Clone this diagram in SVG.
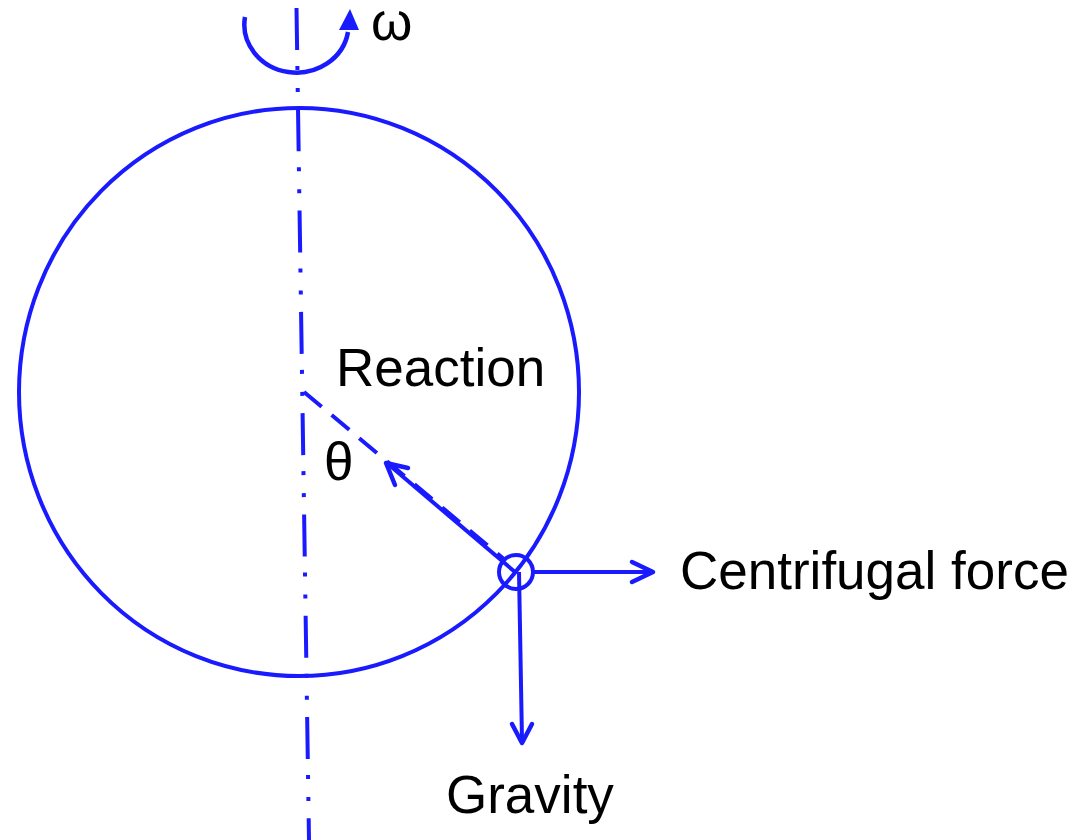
<svg xmlns="http://www.w3.org/2000/svg" width="1086" height="840" viewBox="0 0 1086 840">
<style>
.ln{fill:none;stroke:#1a1aff;stroke-width:4}
.ah{fill:none;stroke:#1a1aff;stroke-width:4.5;stroke-linecap:round;stroke-linejoin:round}
.t{font-family:"Liberation Sans",Arial,sans-serif;font-size:53px;fill:#000}
</style>
<rect width="1086" height="840" fill="#fff"/>
<g id="sphere">
<ellipse class="ln" cx="299" cy="392" rx="280" ry="284"/>
</g>
<g id="axis">
<line class="ln" x1="296.5" y1="8" x2="309" y2="840" stroke-dasharray="42 16 4 18 4 17.3"/>
</g>
<g id="rotation">
<path class="ln" style="stroke-width:4.5" d="M245,17 A52,48 0 0 0 348,32"/>
<polygon points="339,30 359,30 350,9" fill="#1a1aff"/>
<text class="t" x="371" y="40">ω</text>
</g>
<g id="particle">
<circle class="ln" cx="516" cy="572" r="17"/>
</g>
<g id="connectors">
<line class="ln" x1="304" y1="392" x2="505" y2="560" stroke-dasharray="23 13"/>
<line class="ln" x1="515" y1="572" x2="388" y2="464"/>
<polyline class="ah" points="408,468 386,463 395,485"/>
<line class="ln" x1="533" y1="572" x2="651" y2="572"/>
<polyline class="ah" points="632,562 653,572 632,582"/>
<line class="ln" x1="519" y1="572" x2="522" y2="741"/>
<polyline class="ah" points="512,724 522,743 532,724"/>
</g>
<g id="labels">
<text class="t" x="336" y="386">Reaction</text>
<text class="t" x="324" y="480">θ</text>
<text class="t" x="680" y="589">Centrifugal force</text>
<text class="t" x="446" y="813">Gravity</text>
</g>
</svg>
